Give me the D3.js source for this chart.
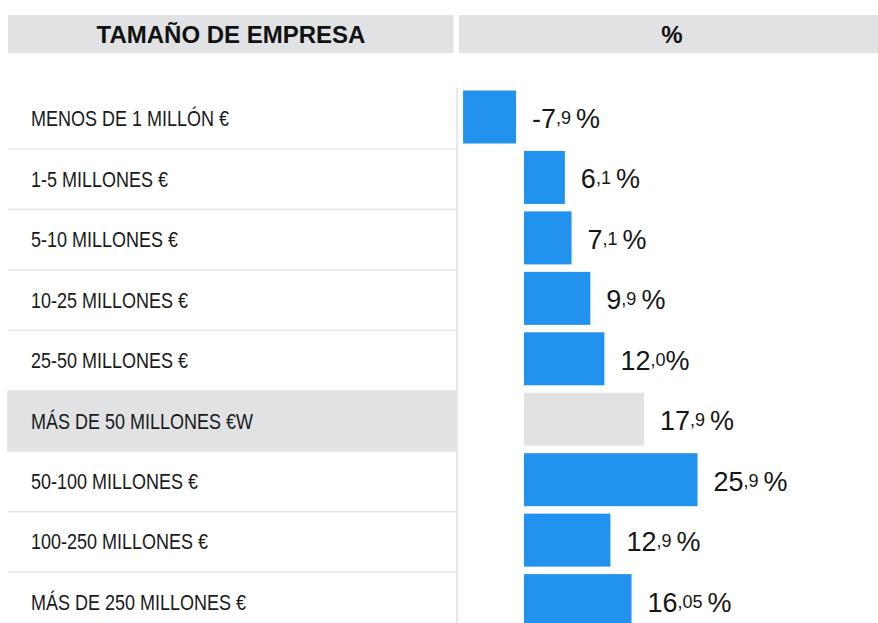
<!DOCTYPE html>
<html>
<head>
<meta charset="utf-8">
<script src="https://cdn.jsdelivr.net/npm/d3@7"></script>
<style>
  html, body { margin: 0; padding: 0; background: #fff; }
  svg { display: block; }
  text { font-family: "Liberation Sans", Arial, Helvetica, sans-serif; }
</style>
</head>
<body>
<div id="chart"></div>
<script>
// datos
const categorias = [
  "MENOS DE 1 MILLÓN €",
  "1-5 MILLONES €",
  "5-10 MILLONES €",
  "10-25 MILLONES €",
  "25-50 MILLONES €",
  "MÁS DE 50 MILLONES €W",
  "50-100 MILLONES €",
  "100-250 MILLONES €",
  "MÁS DE 250 MILLONES €"
];
const valores = [-7.9, 6.1, 7.1, 9.9, 12.0, 17.9, 25.9, 12.9, 16.05];
const etiquetas = ["-7,9 %", "6,1 %", "7,1 %", "9,9 %", "12,0%", "17,9 %", "25,9 %", "12,9 %", "16,05 %"];
const subtotal = "MÁS DE 50 MILLONES €W";
const cabeceras = ["TAMAÑO DE EMPRESA", "%"];

const width = 878;
const height = 623;
const azul = "#2193ee";
const gris = "#e1e2e4";
const linea = "#e8e8e8";

const svg = d3.select("#chart")
  .append("svg")
  .attr("width", width)
  .attr("height", height);

// escalas
const y = d3.scaleBand()
  .domain(categorias)
  .range([88.5, 88.5 + 60.45 * categorias.length])
  .paddingInner(0);

const x = d3.scaleLinear()
  .domain([0, 30])
  .range([524, 725]);

const negGap = 8; // la barra negativa queda separada del cero

// --- cabecera ---
const head = svg.append("g");
head.append("rect").attr("x", 8).attr("y", 15).attr("width", 445.5).attr("height", 38).attr("fill", gris);
head.append("rect").attr("x", 459).attr("y", 15).attr("width", width - 459).attr("height", 38).attr("fill", gris);
head.append("text")
  .attr("x", 231).attr("y", 43)
  .attr("text-anchor", "middle")
  .style("font-size", "24px").style("font-weight", "bold").attr("fill", "#111")
  .text(cabeceras[0]);
head.append("text")
  .attr("x", 672).attr("y", 43)
  .attr("text-anchor", "middle")
  .style("font-size", "24px").style("font-weight", "bold").attr("fill", "#111")
  .text(cabeceras[1]);

// fondo de la fila destacada
svg.append("rect")
  .attr("x", 7).attr("y", y(subtotal))
  .attr("width", 450).attr("height", y.bandwidth())
  .attr("fill", gris);

// separadores de filas (solo columna izquierda)
svg.append("g")
  .selectAll("line")
  .data(categorias.slice(1))
  .enter()
  .append("line")
  .attr("x1", 8).attr("x2", 456)
  .attr("y1", d => y(d)).attr("y2", d => y(d))
  .attr("stroke", linea).attr("stroke-width", 1.6);

// linea vertical
svg.append("line")
  .attr("x1", 457).attr("x2", 457)
  .attr("y1", 88).attr("y2", height)
  .attr("stroke", linea).attr("stroke-width", 2);

// etiquetas de categoria (condensadas)
svg.append("g")
  .selectAll("text")
  .data(categorias)
  .enter()
  .append("text")
  .attr("transform", d => `translate(31, ${y(d) + 37.8}) scale(0.8, 1)`)
  .style("font-size", "22.5px")
  .attr("fill", "#1a1a1a")
  .text(d => d);

// barras
const filas = categorias.map((c, i) => ({ cat: c, v: valores[i], lab: etiquetas[i] }));

function barX(d) { return d.v < 0 ? x(d.v) - negGap : x(0); }
function barW(d) { return Math.abs(x(d.v) - x(0)); }

svg.append("g")
  .selectAll("rect")
  .data(filas)
  .enter()
  .append("rect")
  .attr("x", d => barX(d))
  .attr("y", d => y(d.cat) + 2)
  .attr("width", d => barW(d))
  .attr("height", 53)
  .attr("fill", d => d.cat === subtotal ? gris : azul);

// etiquetas de valor: parte entera grande, decimales pequeños y elevados
const val = svg.append("g")
  .selectAll("text")
  .data(filas)
  .enter()
  .append("text")
  .attr("x", d => barX(d) + barW(d) + 16)
  .attr("y", d => y(d.cat) + 39.5)
  .attr("fill", "#161616")
  .style("font-size", "27px");

val.each(function(d) {
  const t = d3.select(this);
  const coma = d.lab.indexOf(",");
  const ent = d.lab.slice(0, coma);
  const resto = d.lab.slice(coma);
  const dec = resto.replace("%", "");
  t.append("tspan").text(ent);
  t.append("tspan").attr("dy", -4).style("font-size", "18px").text(dec);
  t.append("tspan").attr("dy", 4).text("%");
});
</script>
</body>
</html>
